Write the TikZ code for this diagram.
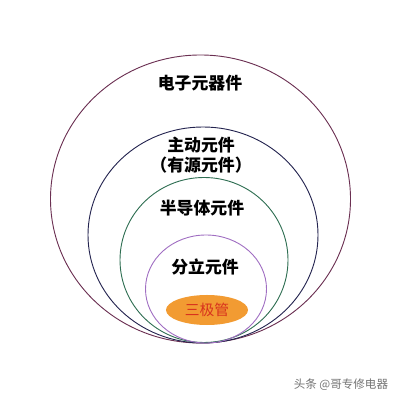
\documentclass[tikz,border=0pt]{standalone}
\usepackage{fontspec}
\setmainfont{Noto Sans CJK SC}
\usetikzlibrary{shapes.geometric}
\definecolor{ringa}{HTML}{6B3052}
\definecolor{ringb}{HTML}{23234F}
\definecolor{ringc}{HTML}{2E6E52}
\definecolor{ringd}{HTML}{A06EC2}
\definecolor{tubefill}{HTML}{F29B32}
\definecolor{tubetext}{HTML}{D8321E}

\begin{document}
\begin{tikzpicture}[x=0.025cm,y=0.025cm,
  ring/.style={line width=0.65pt},
  main node/.style={font=\fontsize{12}{14}\selectfont\bfseries,inner sep=0pt,align=center}]
  \useasboundingbox (0,0) rectangle (400,400);
  % nested sets
  \draw[ring,ringa] (200.5,201) ellipse (150 and 144);
  \draw[ring,ringb] (203,165) ellipse (115 and 108);
  \draw[ring,ringc] (204,140) ellipse (84 and 82.5);
  \draw[ring,ringd] (206,111) ellipse (60.5 and 54);
  \node[ellipse,fill=tubefill,inner sep=0pt,
        minimum width=2.05cm,minimum height=0.75cm] (tube) at (207,90)
        {\fontsize{10.5}{12}\selectfont\color{tubetext}三极管};
  \node[main node] (all)  at (200,317) {电子元器件};
  \node[main node] (act)  at (201,245) {主动元件\\（有源元件）};
  \node[main node] (semi) at (202,192) {半导体元件};
  \node[main node] (disc) at (205,133) {分立元件};
  \node[font=\fontsize{8.2}{10}\selectfont,text=black!55,anchor=east] (mark) at (393,15) {头条 @哥专修电器};
\end{tikzpicture}
\end{document}
